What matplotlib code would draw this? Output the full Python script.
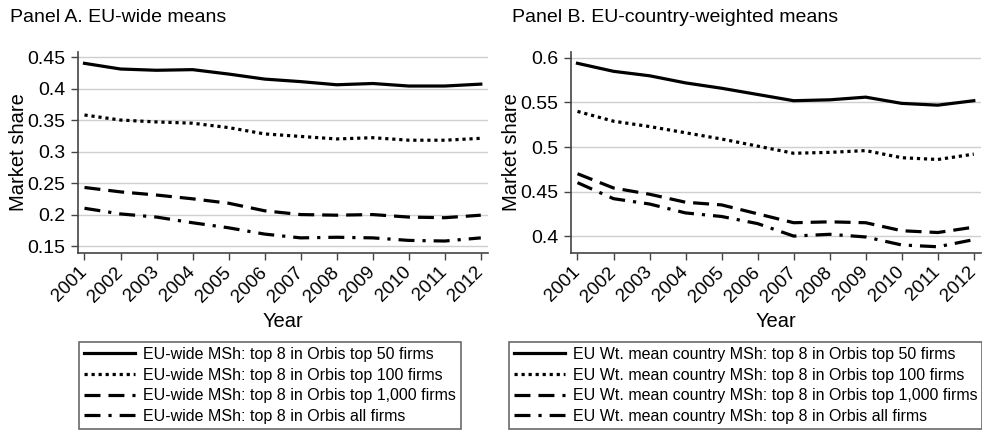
import matplotlib
matplotlib.use("Agg")
import matplotlib.pyplot as plt

plt.rcParams['font.family'] = ['Liberation Sans', 'DejaVu Sans']

# Datos
years = [2001, 2002, 2003, 2004, 2005, 2006, 2007, 2008, 2009, 2010, 2011, 2012]

# Panel A: EU-wide means
a_top50 = [0.440, 0.431, 0.429, 0.430, 0.423, 0.415, 0.411, 0.406, 0.408, 0.404, 0.404, 0.407]
a_top100 = [0.358, 0.350, 0.347, 0.345, 0.338, 0.328, 0.324, 0.320, 0.322, 0.318, 0.318, 0.321]
a_top1000 = [0.243, 0.236, 0.231, 0.225, 0.218, 0.206, 0.200, 0.199, 0.200, 0.196, 0.195, 0.199]
a_all = [0.210, 0.201, 0.196, 0.187, 0.179, 0.169, 0.163, 0.164, 0.163, 0.159, 0.158, 0.163]

# Panel B: EU-country-weighted means
b_top50 = [0.594, 0.585, 0.580, 0.572, 0.566, 0.559, 0.552, 0.553, 0.556, 0.549, 0.547, 0.552]
b_top100 = [0.540, 0.529, 0.523, 0.516, 0.509, 0.501, 0.493, 0.494, 0.496, 0.488, 0.486, 0.492]
b_top1000 = [0.470, 0.454, 0.447, 0.438, 0.435, 0.425, 0.415, 0.416, 0.415, 0.406, 0.404, 0.410]
b_all = [0.460, 0.442, 0.436, 0.426, 0.422, 0.414, 0.400, 0.402, 0.399, 0.390, 0.388, 0.396]

labels_a = ["EU-wide MSh: top 8 in Orbis top 50 firms",
            "EU-wide MSh: top 8 in Orbis top 100 firms",
            "EU-wide MSh: top 8 in Orbis top 1,000 firms",
            "EU-wide MSh: top 8 in Orbis all firms"]
labels_b = ["EU Wt. mean country MSh: top 8 in Orbis top 50 firms",
            "EU Wt. mean country MSh: top 8 in Orbis top 100 firms",
            "EU Wt. mean country MSh: top 8 in Orbis top 1,000 firms",
            "EU Wt. mean country MSh: top 8 in Orbis all firms"]

yticks_a = [0.15, 0.2, 0.25, 0.3, 0.35, 0.4, 0.45]
yticks_b = [0.4, 0.45, 0.5, 0.55, 0.6]

estilos = ['-', (0, (1, 1.2)), (0, (5, 2.5)), (0, (5, 2.5, 1, 2.5))]

W, H = 982, 434
fig = plt.figure(figsize=(W / 100, H / 100), dpi=100)


def panel(rect, series, labels, yticks, ylim, titulo, tx, leg_x):
    ax = fig.add_axes(rect)
    handles = []
    for serie, ls in zip(series, estilos):
        h, = ax.plot(years, serie, color='black', lw=2.3, linestyle=ls,
                     dash_capstyle='butt', solid_joinstyle='round')
        handles.append(h)
    ax.set_xlim(2000.82, 2012.2)
    ax.set_ylim(*ylim)
    ax.set_yticks(yticks)
    ax.set_yticklabels([f"{v:g}" for v in yticks])
    ax.set_xticks(years)
    ax.set_xticklabels([str(y) for y in years], rotation=45, ha='right',
                       va='center', rotation_mode='anchor')
    ax.tick_params(labelsize=13.5, color='#444444', length=5, width=1, pad=4)
    ax.tick_params(axis='x', pad=7)
    ax.tick_params(axis='y', labelsize=14)
    ax.yaxis.grid(True, color='#cfcfcf', lw=1)
    ax.set_axisbelow(True)
    for s in ['top', 'right']:
        ax.spines[s].set_visible(False)
    for s in ['left', 'bottom']:
        ax.spines[s].set_color('#444444')
        ax.spines[s].set_linewidth(1.2)
    ax.set_xlabel("Year", fontsize=14.5, va='center')
    ax.xaxis.set_label_coords(0.5, -0.34)
    ax.set_ylabel("Market share", fontsize=14.5, va='center')
    ax.yaxis.set_label_coords(-0.146, 0.5)
    fig.text(tx / W, 1 - 17 / H, titulo, fontsize=14, va='center', ha='left')
    leg = fig.legend(handles, labels, loc='upper left',
                     bbox_to_anchor=(leg_x / W, 1 - 342 / H),
                     fontsize=11.5, frameon=True, fancybox=False,
                     edgecolor='#444444', handlelength=3.2, handletextpad=0.5,
                     labelspacing=0.36, borderpad=0.3, borderaxespad=0)
    leg.get_frame().set_linewidth(1.2)
    return ax


panel([78 / W, 1 - 253 / H, 410 / W, 201 / H],
      [a_top50, a_top100, a_top1000, a_all], labels_a, yticks_a,
      (0.139, 0.458), "Panel A. EU-wide means", 10, 79)
panel([571 / W, 1 - 253 / H, 410 / W, 201 / H],
      [b_top50, b_top100, b_top1000, b_all], labels_b, yticks_b,
      (0.381, 0.6067), "Panel B. EU-country-weighted means", 512, 509)

fig.savefig("out.png", dpi=100)
